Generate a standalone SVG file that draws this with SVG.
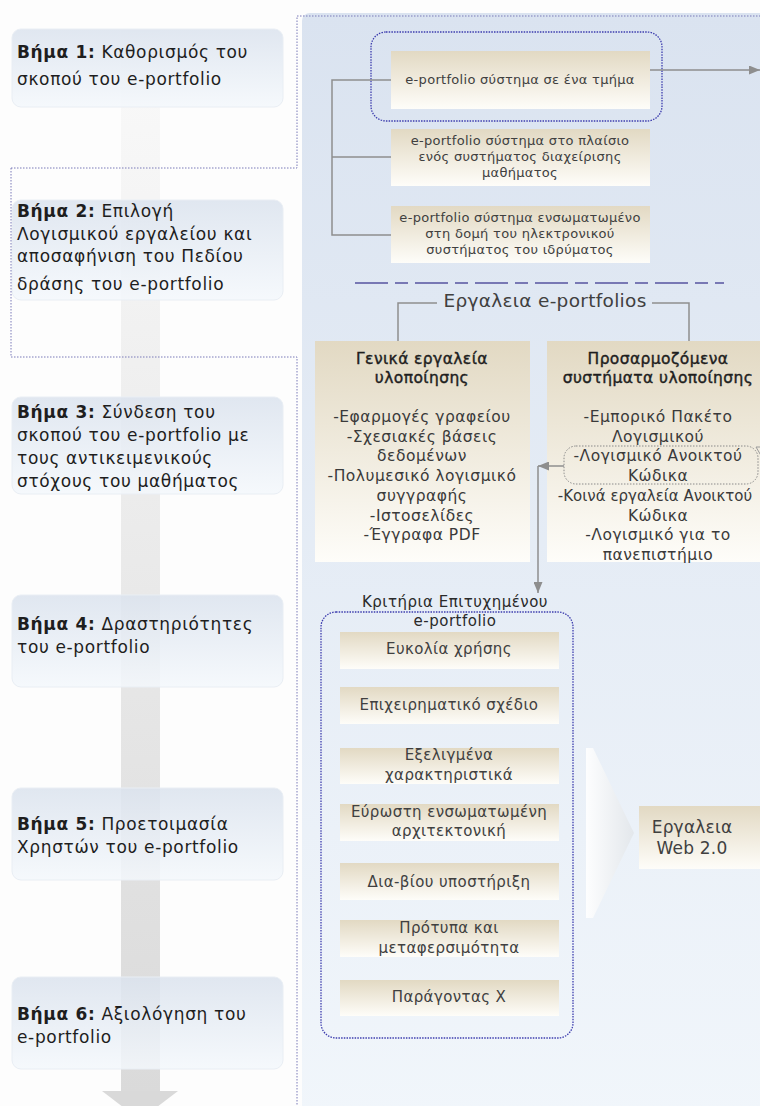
<svg xmlns="http://www.w3.org/2000/svg" width="760" height="1106" viewBox="0 0 760 1106">
<defs>
<linearGradient id="stepG" x1="0" y1="0" x2="0" y2="1"><stop offset="0" stop-color="#dbe3ee"/><stop offset="1" stop-color="#f4f8fc"/></linearGradient>
<linearGradient id="panelG" x1="0" y1="0" x2="0" y2="1"><stop offset="0" stop-color="#dae3f0"/><stop offset="1" stop-color="#f1f6fb"/></linearGradient>
<linearGradient id="beigeG" x1="0" y1="0" x2="0" y2="1"><stop offset="0" stop-color="#e2d9c3"/><stop offset="1" stop-color="#fefdf9"/></linearGradient>
<linearGradient id="shaftG" x1="0" y1="0" x2="0" y2="1"><stop offset="0" stop-color="#fafafa"/><stop offset="1" stop-color="#dadada"/></linearGradient>
<linearGradient id="chevG" x1="0" y1="0" x2="1" y2="0"><stop offset="0" stop-color="#ffffff"/><stop offset="1" stop-color="#e2e6ea"/></linearGradient>
<marker id="ah" markerWidth="11" markerHeight="9" refX="11" refY="4.5" orient="auto" markerUnits="userSpaceOnUse"><path d="M0,0 L11,4.5 L0,9 z" fill="#8e8e8e"/></marker>
</defs>
<style>
.t{font-family:"DejaVu Sans","Noto Sans",sans-serif;}
.step{fill:url(#stepG);fill-opacity:0.85;stroke:#e9eef4;stroke-width:1;}
.st{font-size:17px;letter-spacing:0.65px;fill:#1e1e1e;}
.b{font-weight:bold;}
.beige{fill:url(#beigeG);}
.bt{font-size:13px;letter-spacing:0.3px;fill:#404040;text-anchor:middle;}
.lt{font-size:15.5px;letter-spacing:0.5px;fill:#3a3a3a;text-anchor:middle;}
.hd{font-size:15.5px;letter-spacing:0.4px;fill:#1e1e1e;stroke:#1e1e1e;stroke-width:0.4px;text-anchor:middle;}
.ct{font-size:15px;letter-spacing:0.4px;fill:#404040;text-anchor:middle;}
.kt{font-size:15px;letter-spacing:0.5px;fill:#2a2a2a;text-anchor:middle;}
.gl{fill:none;stroke:#8e8e8e;stroke-width:1.5;}
.dot{fill:none;stroke:#7a7ab8;stroke-width:1;stroke-dasharray:1.5 1.5;}
.dotb{fill:none;stroke:#3c3cae;stroke-width:1.3;stroke-dasharray:1.5 1.2;}
</style>
<rect width="760" height="1106" fill="#fdfdfd"/>
<g id="flow-arrow">
<rect x="121" y="30" width="39" height="1062" fill="url(#shaftG)"/>
<polygon points="102,1091 178,1091 140,1120" fill="#d9d9d9"/>
</g>
<g id="panel">
<rect x="302" y="13" width="470" height="1110" rx="8" fill="url(#panelG)"/>
</g>
<g id="step1"><rect class="step" x="12" y="29" width="271" height="78" rx="9"/>
<text class="t st" x="17" y="58"><tspan class="b">Βήμα 1:</tspan> Καθορισμός του</text>
<text class="t st" x="17" y="85">σκοπού του e-portfolio</text></g>
<g id="step2"><rect class="step" x="12" y="200" width="271" height="100" rx="9"/>
<text class="t st" x="17" y="217"><tspan class="b">Βήμα 2:</tspan> Επιλογή</text>
<text class="t st" x="17" y="240">Λογισμικού εργαλείου και</text>
<text class="t st" x="17" y="262">αποσαφήνιση του Πεδίου</text>
<text class="t st" x="17" y="290">δράσης του e-portfolio</text></g>
<g id="step3"><rect class="step" x="12" y="397" width="271" height="97" rx="9"/>
<text class="t st" x="17" y="418"><tspan class="b">Βήμα 3:</tspan> Σύνδεση του</text>
<text class="t st" x="17" y="441">σκοπού του e-portfolio με</text>
<text class="t st" x="17" y="464">τους αντικειμενικούς</text>
<text class="t st" x="17" y="487">στόχους του μαθήματος</text></g>
<g id="step4"><rect class="step" x="12" y="595" width="271" height="92" rx="9"/>
<text class="t st" x="17" y="630"><tspan class="b">Βήμα 4:</tspan> Δραστηριότητες</text>
<text class="t st" x="17" y="653">του e-portfolio</text></g>
<g id="step5"><rect class="step" x="12" y="788" width="271" height="92" rx="9"/>
<text class="t st" x="17" y="830"><tspan class="b">Βήμα 5:</tspan> Προετοιμασία</text>
<text class="t st" x="17" y="853">Χρηστών του e-portfolio</text></g>
<g id="step6"><rect class="step" x="12" y="977" width="271" height="92" rx="9"/>
<text class="t st" x="17" y="1020"><tspan class="b">Βήμα 6:</tspan> Αξιολόγηση του</text>
<text class="t st" x="17" y="1043">e-portfolio</text></g>
<g id="sysA"><rect class="beige" x="391" y="51" width="259" height="58"/>
<text class="t bt" x="520" y="84">e-portfolio σύστημα σε ένα τμήμα</text></g>
<g id="sysB"><rect class="beige" x="391" y="129" width="259" height="57"/>
<text class="t bt" x="520" y="145">e-portfolio σύστημα στο πλαίσιο</text>
<text class="t bt" x="520" y="161">ενός συστήματος διαχείρισης</text>
<text class="t bt" x="520" y="177">μαθήματος</text></g>
<g id="sysC"><rect class="beige" x="391" y="206" width="259" height="57"/>
<text class="t bt" x="520" y="222">e-portfolio σύστημα ενσωματωμένο</text>
<text class="t bt" x="520" y="238">στη δομή του ηλεκτρονικού</text>
<text class="t bt" x="520" y="254">συστήματος του ιδρύματος</text></g>
<g id="tools-title"><text class="t" x="545" y="307" font-size="18.5" letter-spacing="0.3" fill="#404040" text-anchor="middle">Εργαλεια e-portfolios</text></g>
<g id="general"><rect class="beige" x="315" y="341" width="215" height="221"/>
<text class="t hd" x="422" y="364">Γενικά εργαλεία</text>
<text class="t hd" x="422" y="383">υλοποίησης</text>
<text class="t lt" x="422" y="422">-Εφαρμογές γραφείου</text>
<text class="t lt" x="422" y="442">-Σχεσιακές βάσεις</text>
<text class="t lt" x="422" y="461">δεδομένων</text>
<text class="t lt" x="422" y="481">-Πολυμεσικό λογισμικό</text>
<text class="t lt" x="422" y="501">συγγραφής</text>
<text class="t lt" x="422" y="521">-Ιστοσελίδες</text>
<text class="t lt" x="422" y="540">-Έγγραφα PDF</text></g>
<g id="custom"><rect class="beige" x="547" y="341" width="230" height="221"/>
<text class="t hd" x="658" y="364">Προσαρμοζόμενα</text>
<text class="t hd" x="658" y="383">συστήματα υλοποίησης</text>
<text class="t lt" x="658" y="422">-Εμπορικό Πακέτο</text>
<text class="t lt" x="658" y="442">Λογισμικού</text>
<text class="t lt" x="658" y="461">-Λογισμικό Ανοικτού</text>
<text class="t lt" x="658" y="481">Κώδικα</text>
<text class="t lt" x="655" y="501" style="font-size:15px;letter-spacing:0px">-Κοινά εργαλεία Ανοικτού</text>
<text class="t lt" x="658" y="521">Κώδικα</text>
<text class="t lt" x="658" y="540">-Λογισμικό για το</text>
<text class="t lt" x="658" y="560">πανεπιστήμιο</text>
<rect x="564" y="446" width="194" height="38" rx="12" fill="none" stroke="#8a8a8a" stroke-width="1" stroke-dasharray="1.5 1.5"/></g>
<g id="criteria">
<rect class="dotb" x="321" y="612" width="252" height="426" rx="15"/>
<text class="t kt" x="455" y="607">Κριτήρια Επιτυχημένου</text>
<text class="t kt" x="455" y="626">e-portfolio</text>
<rect class="beige" x="340" y="632" width="219" height="37"/>
<text class="t ct" x="449" y="654">Ευκολία χρήσης</text>
<rect class="beige" x="340" y="687" width="219" height="37"/>
<text class="t ct" x="449" y="710">Επιχειρηματικό σχέδιο</text>
<rect class="beige" x="340" y="748" width="219" height="36"/>
<text class="t ct" x="449" y="760">Εξελιγμένα</text>
<text class="t ct" x="449" y="780">χαρακτηριστικά</text>
<rect class="beige" x="340" y="804" width="219" height="37"/>
<text class="t ct" x="449" y="817">Εύρωστη ενσωματωμένη</text>
<text class="t ct" x="449" y="836">αρχιτεκτονική</text>
<rect class="beige" x="340" y="863" width="219" height="37"/>
<text class="t ct" x="449" y="887">Δια-βίου υποστήριξη</text>
<rect class="beige" x="340" y="920" width="219" height="37"/>
<text class="t ct" x="449" y="933">Πρότυπα και</text>
<text class="t ct" x="449" y="953">μεταφερσιμότητα</text>
<rect class="beige" x="340" y="980" width="219" height="36"/>
<text class="t ct" x="449" y="1002">Παράγοντας Χ</text>
</g>
<g id="chevron"><polygon points="586,748 593,748 634,833 593,918 586,918" fill="url(#chevG)" opacity="0.9"/></g>
<g id="web20"><rect class="beige" x="639" y="806" width="130" height="63"/>
<text class="t" x="692" y="833" font-size="17" letter-spacing="0.2" fill="#404040" text-anchor="middle">Εργαλεια</text>
<text class="t" x="692" y="854" font-size="17" letter-spacing="0.2" fill="#404040" text-anchor="middle">Web 2.0</text></g>
<g id="connectors">
<path class="dot" d="M11,168 H297 V16 H760"/>
<path class="dot" d="M11,168 V357 H297 V1106"/>
<rect class="dotb" x="371" y="32" width="291" height="89" rx="15"/>
<path class="gl" d="M391,80 H332 V235 H391 M332,157 H391"/>
<path class="gl" d="M650,70 H760" marker-end="url(#ah)"/>
<line x1="355" y1="283" x2="724" y2="283" stroke="#7878b4" stroke-width="2" stroke-dasharray="33 7 13 7"/>
<path class="gl" d="M437,303 H398 V341 M652,303 H689 V341"/>
<path class="gl" d="M564,466 H538" marker-end="url(#ah)"/>
<path class="gl" d="M538,466 V593" marker-end="url(#ah)"/>
<polygon points="756,447 770,447 763,459" fill="none" stroke="#9a9a9a" stroke-width="1"/>
</g>
</svg>
